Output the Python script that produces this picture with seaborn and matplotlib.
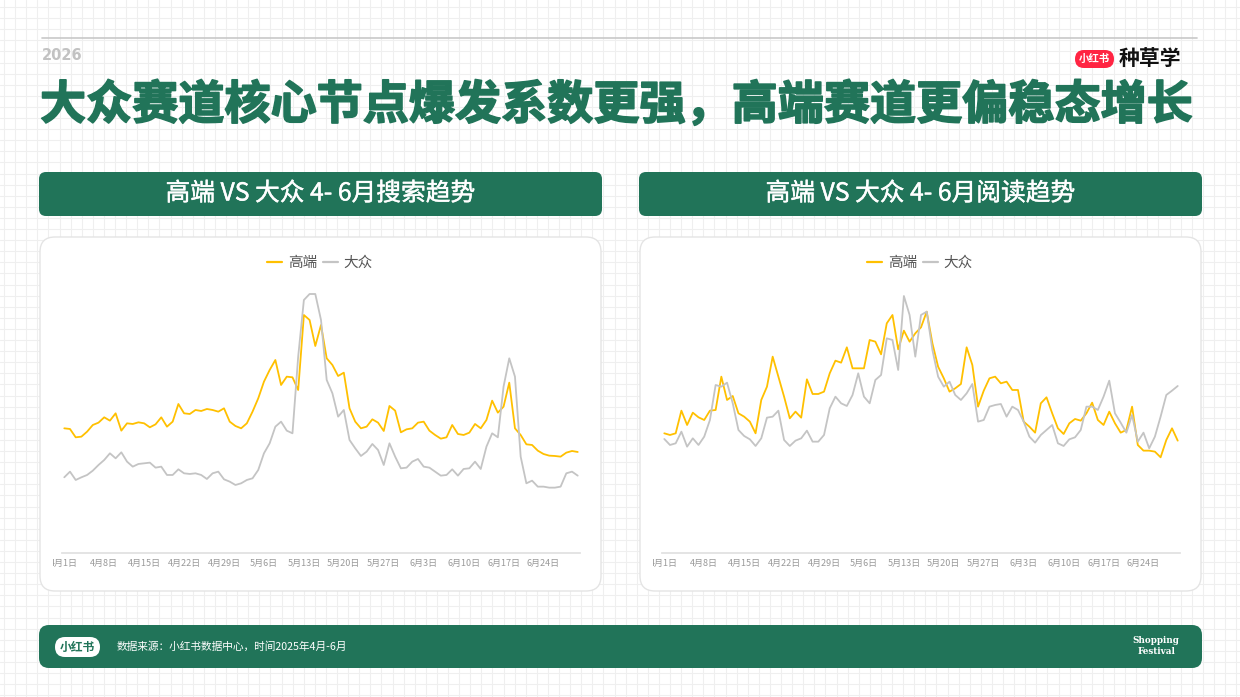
"""高端 vs 大众 4-6月 搜索 / 阅读趋势"""

import numpy as np
import pandas as pd
import seaborn as sns
import matplotlib.pyplot as plt
import matplotlib.patheffects as pe
from matplotlib.patches import FancyBboxPatch
from matplotlib.lines import Line2D
from matplotlib.transforms import Bbox

# daily index, 4月1日 - 6月30日 (no y scale shown)
search_high = [
    37.5, 37.3, 34.8, 35.0, 36.5, 38.5, 39.2, 40.8, 39.8, 42.0,
    36.8, 39.0, 38.8, 39.3, 39.0, 37.8, 38.7, 40.8, 38.0, 39.5,
    44.8, 42.0, 41.8, 43.0, 42.7, 43.3, 43.0, 42.5, 43.5, 39.5,
    38.2, 37.5, 39.0, 42.5, 46.5, 51.5, 55.0, 58.0, 50.5, 53.0,
    52.8, 49.0, 71.5, 70.0, 62.2, 68.5, 58.5, 56.5, 53.2, 54.2,
    43.5, 39.5, 37.5, 38.0, 40.2, 39.2, 36.7, 44.2, 42.8, 36.3,
    37.2, 37.5, 39.2, 39.5, 36.8, 35.5, 34.4, 34.8, 38.5, 35.8,
    35.5, 36.2, 38.8, 37.5, 40.0, 45.8, 42.2, 44.0, 51.2, 37.5,
    35.5, 32.7, 32.5, 30.8, 29.8, 29.3, 29.2, 29.0, 30.2, 30.7, 30.4,
]
search_mass = [
    22.8, 24.5, 22.0, 22.8, 23.5, 24.8, 26.5, 28.0, 30.0, 28.5,
    30.3, 27.5, 26.0, 26.8, 27.0, 27.2, 25.7, 26.0, 23.5, 23.5,
    25.2, 24.0, 23.8, 24.0, 23.5, 22.3, 24.0, 24.5, 22.2, 21.5,
    20.5, 21.0, 22.0, 22.5, 25.0, 30.0, 33.0, 38.0, 39.5, 36.8,
    36.0, 59.0, 76.0, 77.8, 77.8, 70.0, 52.0, 48.0, 41.0, 43.0,
    34.0, 31.5, 29.2, 30.5, 32.8, 31.0, 26.5, 33.0, 29.0, 25.5,
    25.7, 27.5, 28.3, 26.0, 25.7, 24.5, 23.3, 23.5, 25.2, 23.3,
    25.3, 25.5, 27.5, 25.3, 32.0, 36.0, 34.8, 50.0, 58.5, 53.0,
    29.0, 21.0, 21.8, 20.0, 20.0, 19.7, 19.7, 20.0, 24.0, 24.5, 23.3,
]
read_high = [
    36.0, 35.5, 36.0, 42.8, 38.5, 42.2, 40.8, 40.0, 42.8, 43.0,
    53.0, 46.0, 47.2, 42.0, 41.0, 39.5, 36.0, 46.0, 50.0, 59.0,
    53.0, 47.0, 40.5, 42.5, 40.7, 52.2, 47.8, 47.8, 48.5, 54.0,
    57.8, 57.2, 61.8, 55.5, 55.5, 55.5, 64.0, 63.5, 59.7, 69.0,
    71.5, 61.2, 66.8, 63.5, 66.0, 67.8, 72.5, 63.0, 56.0, 52.5,
    48.5, 49.5, 50.8, 61.8, 56.5, 44.0, 48.8, 52.5, 53.0, 51.0,
    51.5, 49.0, 49.0, 39.5, 38.0, 36.2, 45.0, 46.8, 42.0, 37.5,
    35.8, 39.0, 40.3, 39.8, 42.0, 45.2, 40.0, 38.5, 42.5, 39.0,
    36.2, 37.0, 44.0, 32.5, 30.8, 30.8, 30.5, 28.8, 34.0, 37.5, 33.8,
]
read_mass = [
    34.3, 32.5, 33.0, 36.5, 32.0, 34.5, 32.5, 35.0, 40.0, 50.5,
    50.0, 51.2, 45.0, 37.0, 35.2, 34.2, 32.2, 34.5, 40.7, 41.0,
    42.8, 34.0, 32.2, 33.8, 34.5, 36.8, 33.5, 33.5, 35.5, 43.5,
    47.0, 45.0, 44.2, 47.5, 54.0, 47.0, 45.0, 52.0, 53.5, 64.5,
    64.0, 55.0, 77.2, 71.5, 59.0, 71.5, 72.5, 61.0, 53.0, 50.0,
    51.5, 47.5, 46.0, 48.0, 50.8, 39.5, 40.0, 44.0, 44.5, 44.8,
    41.0, 44.0, 43.0, 39.5, 35.0, 33.2, 35.5, 37.0, 38.5, 33.0,
    32.2, 34.2, 34.8, 37.0, 44.0, 44.0, 43.0, 47.0, 51.8, 42.0,
    39.2, 36.2, 41.5, 33.5, 36.2, 31.5, 35.0, 41.0, 47.5, 48.8, 50.2,
]
tick_days = [0, 7, 14, 21, 28, 35, 42, 49, 56, 63, 70, 77, 84]
tick_labels = ["4月1日", "4月8日", "4月15日", "4月22日", "4月29日", "5月6日", "5月13日",
               "5月20日", "5月27日", "6月3日", "6月10日", "6月17日", "6月24日"]
series_names = ["高端", "大众"]

title = "大众赛道核心节点爆发系数更强，高端赛道更偏稳态增长"
panel_titles = ["高端 VS 大众 4- 6月搜索趋势", "高端 VS 大众 4- 6月阅读趋势"]
source = "数据来源：小红书数据中心，时间2025年4月-6月"

GREEN = "#217459"
YELLOW = "#ffc000"
GREY = "#c4c4c4"

sns.set_theme(style="white")
plt.rcParams["font.family"] = ["Noto Sans CJK SC", "DejaVu Sans"]

W, H = 1240, 697
fig = plt.figure(figsize=(W / 100, H / 100), dpi=100)
fig.patch.set_facecolor("white")

# background canvas in pixel coords with the faint square grid
bg = fig.add_axes([0, 0, 1, 1])
bg.set_xlim(0, W)
bg.set_ylim(H, 0)
bg.set_xticks(np.arange(4, W, 11.1))
bg.set_yticks(np.arange(7, H, 11.1))
bg.grid(True, color="#efefef", linewidth=0.8)
bg.tick_params(length=0, labelbottom=False, labelleft=False)
for s in bg.spines.values():
    s.set_visible(False)
bg.set_facecolor("white")


def box(x0, y0, x1, y1, r, fc, ec="none", lw=0):
    bg.add_patch(FancyBboxPatch((x0, y0), x1 - x0, y1 - y0,
                                boxstyle=f"round,pad=0,rounding_size={r}",
                                fc=fc, ec=ec, lw=lw, zorder=3))


# header
bg.plot([42, 1197], [38, 38], color="#c8c8c8", lw=1.2, zorder=3)
bg.text(42, 55, "2026", color="#c2c2c2", fontsize=10.5, fontweight="bold",
        va="center", ha="left", family="DejaVu Sans", zorder=4)
bg.text(40, 105, title, color=GREEN, fontsize=33.2, fontweight="heavy",
        va="center", ha="left", zorder=4,
        path_effects=[pe.withStroke(linewidth=1.2, foreground=GREEN)])
box(1075, 50, 1114, 68, 9, "#ff2442")
bg.text(1094.5, 59, "小红书", color="white", fontsize=7.5, fontweight="bold",
        ha="center", va="center", zorder=4)
bg.text(1119, 59, "种草学", color="#111111", fontsize=15, fontweight="bold",
        ha="left", va="center", zorder=4)

# footer
box(39, 625, 1202, 668, 10, GREEN)
box(55, 637, 100, 657, 10, "white")
bg.text(77.5, 647, "小红书", color=GREEN, fontsize=8.5, fontweight="bold",
        ha="center", va="center", zorder=4)
bg.text(117, 647, source, color="white", fontsize=7.7, ha="left", va="center", zorder=4)
bg.text(1156, 646, "Shopping\nFestival", color="white", fontsize=6.3,
        fontweight="bold", family="DejaVu Serif", ha="center", va="center",
        linespacing=1.4, zorder=4)

days = np.arange(len(search_high))
panels = [
    (0, pd.DataFrame({"day": days, "高端": search_high, "大众": search_mass})),
    (600, pd.DataFrame({"day": days, "高端": read_high, "大众": read_mass})),
]

for i, (dx, df) in enumerate(panels):
    # title bar and white card
    box(39 + dx, 172, 602 + dx, 216, 7, GREEN)
    bg.text(320.5 + dx, 193.5, panel_titles[i], color="white", fontsize=17.8,
            ha="center", va="center", zorder=4,
            path_effects=[pe.withStroke(linewidth=0.3, foreground="white")])
    box(40 + dx, 237, 601 + dx, 591, 15, "white", ec="#e4e4e4", lw=1)

    ax = fig.add_axes([(62 + dx) / W, 1 - 553.3 / H, 518 / W, 273.3 / H])
    ax.set_facecolor("none")
    sns.lineplot(x="day", y="高端", data=df, color=YELLOW, linewidth=1.3, ax=ax)
    sns.lineplot(x="day", y="大众", data=df, color=GREY, linewidth=1.3, ax=ax)
    ax.set_xlim(-0.4, 90.4)
    ax.set_ylim(0, 82)
    ax.set_xlabel("")
    ax.set_ylabel("")
    ax.set_yticks([])
    ax.set_xticks(tick_days)
    ax.set_xticklabels(tick_labels)
    ax.tick_params(axis="x", length=0, pad=4, labelsize=6.5, labelcolor="#999999")
    for s in ["top", "right", "left"]:
        ax.spines[s].set_visible(False)
    ax.spines["bottom"].set_color("#e2e2e2")
    ax.spines["bottom"].set_linewidth(1.3)

    # first label is cut off by the chart canvas on the left
    first = ax.get_xticklabels()[0]
    first.set_clip_on(True)
    first.set_clip_box(Bbox.from_extents(53 + dx, 0, 700 + dx, H))

    handles = [Line2D([], [], color=YELLOW, lw=1.6), Line2D([], [], color=GREY, lw=1.6)]
    ax.legend(handles, series_names, loc="center", ncol=2, frameon=False,
              bbox_to_anchor=((320 + dx) / W, 1 - 263 / H),
              bbox_transform=fig.transFigure, fontsize=10.5, labelcolor="#555555",
              handlelength=1.0, handletextpad=0.4, columnspacing=0.4)

fig.savefig("out.png", dpi=100)
